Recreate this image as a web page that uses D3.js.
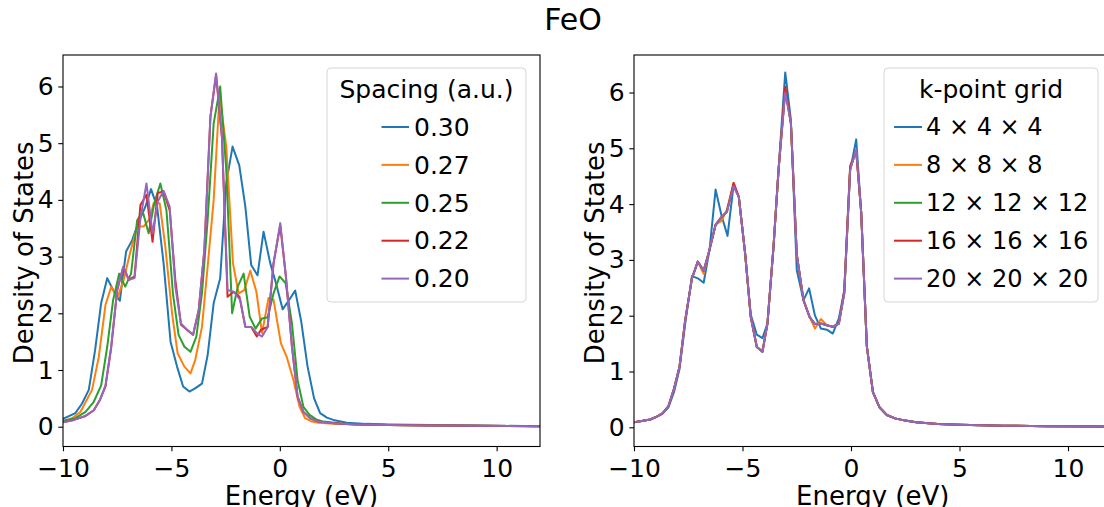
<!DOCTYPE html>
<html><head><meta charset="utf-8">
<script src="https://cdn.jsdelivr.net/npm/d3@7/dist/d3.min.js"></script>
<style>body{margin:0;background:#fff}svg{display:block}text{font-family:"DejaVu Sans",sans-serif;fill:#000}</style>
</head><body><svg id="c" width="1104" height="507"></svg>
<script>
// ---- data ----
const xTicks = [-10, -5, 0, 5, 10];
const yTicks = [0, 1, 2, 3, 4, 5, 6];
const colors = ["#1f77b4", "#ff7f0e", "#2ca02c", "#d62728", "#9467bd"];
const spacingLabels = ["0.30", "0.27", "0.25", "0.22", "0.20"];
const kgridLabels = ["4 \u00d7 4 \u00d7 4", "8 \u00d7 8 \u00d7 8", "12 \u00d7 12 \u00d7 12", "16 \u00d7 16 \u00d7 16", "20 \u00d7 20 \u00d7 20"];

// Left panel: DOS vs energy for grid spacings [energy eV, DOS]
const sp030 = [[-10.1,0.12],[-9.43,0.24],[-9.12,0.41],[-8.81,0.65],[-8.52,1.35],[-8.24,2.18],[-7.96,2.62],[-7.69,2.41],[-7.38,2.22],[-7.09,3.09],[-6.81,3.29],[-6.53,3.59],[-6.2,3.88],[-5.94,4.19],[-5.66,3.88],[-5.36,2.88],[-5.04,1.5],[-4.74,1.06],[-4.46,0.71],[-4.17,0.62],[-3.89,0.68],[-3.59,0.76],[-3.33,1.26],[-3.05,2.18],[-2.75,2.62],[-2.47,4.3],[-2.18,4.94],[-1.87,4.61],[-1.59,3.88],[-1.32,2.85],[-1.03,2.67],[-0.75,3.44],[-0.44,2.88],[-0.17,2.52],[0.13,2.07],[0.42,2.23],[0.71,2.4],[0.99,1.85],[1.28,1.06],[1.58,0.5],[1.86,0.24],[2.17,0.16],[2.47,0.12],[3.09,0.07],[4,0.05],[5,0.04],[7,0.03],[9,0.02],[12,0.01]];
const sp027 = [[-10.1,0.09],[-9.58,0.15],[-9.2,0.26],[-8.66,0.65],[-8.35,1.23],[-8.04,2.15],[-7.77,2.47],[-7.5,2.26],[-7.2,2.59],[-6.89,3.09],[-6.58,3.53],[-6.28,3.53],[-6.0,3.67],[-5.82,3.94],[-5.54,3.94],[-5.28,3.17],[-4.97,2.0],[-4.71,1.29],[-4.4,1.06],[-4.12,0.94],[-3.9,1.18],[-3.59,1.76],[-3.33,2.82],[-3.05,4.0],[-2.78,5.85],[-2.47,4.94],[-2.16,2.88],[-1.9,2.35],[-1.64,2.41],[-1.36,2.75],[-1.08,2.38],[-0.82,1.65],[-0.52,2.27],[-0.29,2.24],[0.05,1.47],[0.32,1.23],[0.63,0.82],[0.91,0.35],[1.17,0.15],[1.48,0.09],[1.78,0.07],[2.5,0.05],[3.5,0.04],[5,0.03],[7,0.02],[9,0.015],[12,0.01]];
const sp025 = [[-10.1,0.09],[-9.43,0.15],[-8.96,0.26],[-8.58,0.44],[-8.24,0.73],[-7.96,1.41],[-7.69,2.23],[-7.41,2.7],[-7.13,2.47],[-6.86,2.7],[-6.58,3.64],[-6.32,3.79],[-6.05,3.41],[-5.79,3.94],[-5.51,4.29],[-5.23,3.82],[-4.93,2.35],[-4.67,1.62],[-4.4,1.41],[-4.12,1.32],[-3.85,1.59],[-3.59,2.35],[-3.33,3.64],[-3.05,5.35],[-2.75,6.0],[-2.47,4.53],[-2.2,2.0],[-1.94,2.47],[-1.67,2.7],[-1.39,1.94],[-1.12,1.73],[-0.82,1.91],[-0.56,1.93],[-0.29,2.35],[-0.01,2.65],[0.27,2.53],[0.56,1.82],[0.82,0.82],[1.09,0.35],[1.37,0.21],[1.68,0.13],[2.0,0.09],[3,0.05],[5,0.03],[7,0.02],[9,0.015],[12,0.01]];
const sp022 = [[-10.1,0.07],[-9.5,0.12],[-8.96,0.19],[-8.58,0.29],[-8.3,0.47],[-8.04,0.71],[-7.78,1.38],[-7.5,2.41],[-7.22,2.82],[-6.96,2.59],[-6.7,2.65],[-6.43,3.91],[-6.15,4.09],[-5.87,3.26],[-5.63,4.12],[-5.36,4.15],[-5.08,3.82],[-4.82,2.59],[-4.56,1.8],[-4.28,1.71],[-4.0,1.62],[-3.74,2.06],[-3.48,3.12],[-3.2,5.47],[-2.94,6.2],[-2.67,5.11],[-2.41,2.29],[-2.13,2.38],[-1.86,2.29],[-1.59,1.76],[-1.32,1.76],[-1.06,1.59],[-0.87,1.71],[-0.56,1.76],[-0.29,2.88],[0.02,3.55],[0.28,2.65],[0.56,1.41],[0.82,0.53],[1.09,0.26],[1.4,0.15],[1.78,0.09],[2.5,0.06],[3.5,0.04],[5,0.03],[7,0.02],[9,0.015],[12,0.01]];
const sp020 = [[-10.1,0.07],[-9.5,0.12],[-8.96,0.19],[-8.58,0.29],[-8.3,0.47],[-8.04,0.73],[-7.78,1.41],[-7.5,2.41],[-7.22,2.82],[-6.96,2.59],[-6.7,2.62],[-6.43,3.67],[-6.15,4.29],[-5.87,3.41],[-5.63,3.97],[-5.36,4.16],[-5.08,3.88],[-4.82,2.47],[-4.56,1.82],[-4.28,1.71],[-4.0,1.62],[-3.74,2.06],[-3.48,3.12],[-3.2,5.47],[-2.94,6.23],[-2.67,5.11],[-2.41,2.41],[-2.13,2.38],[-1.82,2.23],[-1.59,1.76],[-1.32,1.76],[-1.06,1.65],[-0.82,1.59],[-0.56,1.76],[-0.29,2.88],[0.02,3.59],[0.28,2.65],[0.56,1.41],[0.82,0.53],[1.09,0.26],[1.4,0.15],[1.78,0.09],[2.5,0.06],[3.5,0.04],[5,0.03],[7,0.02],[9,0.015],[12,0.01]];

// Right panel: DOS vs energy for k-point grids
const kg4 = [[-10.17,0.08],[-9.71,0.11],[-9.25,0.14],[-8.95,0.19],[-8.69,0.24],[-8.41,0.36],[-8.15,0.64],[-7.9,1.05],[-7.64,1.86],[-7.33,2.71],[-7.06,2.67],[-6.79,2.59],[-6.52,3.18],[-6.24,4.26],[-5.97,3.8],[-5.69,3.43],[-5.41,4.34],[-5.17,4.13],[-4.88,3.12],[-4.62,2.02],[-4.34,1.66],[-4.08,1.6],[-3.85,1.86],[-3.57,3.24],[-3.34,4.61],[-3.03,6.36],[-2.77,5.51],[-2.5,2.82],[-2.19,2.28],[-1.93,2.49],[-1.66,2.0],[-1.39,1.77],[-1.11,1.75],[-0.84,1.68],[-0.56,1.95],[-0.31,2.45],[-0.04,4.6],[0.24,5.16],[0.47,3.85],[0.73,1.45],[1.01,0.63],[1.31,0.36],[1.65,0.22],[2.03,0.16],[2.5,0.12],[3,0.09],[4,0.06],[5,0.045],[7,0.03],[9,0.02],[12,0.012]];
const kg8 = [[-10.17,0.08],[-9.71,0.11],[-9.25,0.14],[-8.95,0.19],[-8.69,0.25],[-8.41,0.38],[-8.15,0.7],[-7.9,1.09],[-7.64,1.92],[-7.33,2.67],[-7.06,2.97],[-6.79,2.75],[-6.52,3.18],[-6.24,3.63],[-5.97,3.7],[-5.72,3.9],[-5.41,4.38],[-5.17,4.13],[-4.88,3.12],[-4.62,1.98],[-4.34,1.44],[-4.08,1.37],[-3.85,1.86],[-3.57,3.24],[-3.34,4.61],[-3.03,6.05],[-2.77,5.45],[-2.5,3.1],[-2.19,2.28],[-1.91,1.98],[-1.66,1.77],[-1.39,1.94],[-1.11,1.83],[-0.84,1.8],[-0.56,1.86],[-0.31,2.4],[-0.04,4.65],[0.24,4.95],[0.47,3.85],[0.73,1.45],[1.01,0.63],[1.31,0.36],[1.65,0.22],[2.03,0.16],[2.5,0.12],[3,0.09],[4,0.06],[5,0.045],[7,0.03],[9,0.02],[12,0.012]];
const kg12 = [[-10.17,0.08],[-9.71,0.11],[-9.25,0.14],[-8.95,0.19],[-8.69,0.25],[-8.41,0.38],[-8.15,0.7],[-7.9,1.09],[-7.64,1.92],[-7.33,2.67],[-7.06,2.97],[-6.79,2.8],[-6.52,3.18],[-6.24,3.63],[-5.97,3.76],[-5.72,3.87],[-5.41,4.33],[-5.17,4.13],[-4.88,3.12],[-4.62,1.98],[-4.34,1.44],[-4.08,1.36],[-3.85,1.86],[-3.57,3.24],[-3.34,4.61],[-3.03,6.05],[-2.77,5.45],[-2.5,3.1],[-2.19,2.28],[-1.91,1.98],[-1.66,1.85],[-1.39,1.86],[-1.11,1.83],[-0.84,1.8],[-0.56,1.86],[-0.31,2.4],[-0.04,4.63],[0.24,4.96],[0.47,3.85],[0.73,1.45],[1.01,0.63],[1.31,0.36],[1.65,0.22],[2.03,0.16],[2.5,0.12],[3,0.09],[4,0.06],[5,0.045],[7,0.03],[9,0.02],[12,0.012]];
const kg16 = [[-10.17,0.08],[-9.71,0.11],[-9.25,0.14],[-8.95,0.19],[-8.69,0.25],[-8.41,0.38],[-8.15,0.7],[-7.9,1.09],[-7.64,1.92],[-7.33,2.67],[-7.06,2.97],[-6.79,2.81],[-6.52,3.18],[-6.24,3.63],[-5.97,3.77],[-5.72,3.86],[-5.41,4.38],[-5.17,4.13],[-4.88,3.12],[-4.62,1.98],[-4.34,1.44],[-4.08,1.35],[-3.85,1.86],[-3.57,3.24],[-3.34,4.61],[-3.03,6.1],[-2.77,5.45],[-2.5,3.1],[-2.19,2.28],[-1.91,1.98],[-1.66,1.85],[-1.39,1.86],[-1.11,1.83],[-0.84,1.8],[-0.56,1.86],[-0.31,2.45],[-0.04,4.68],[0.24,4.95],[0.47,3.85],[0.73,1.45],[1.01,0.63],[1.31,0.36],[1.65,0.22],[2.03,0.16],[2.5,0.12],[3,0.09],[4,0.06],[5,0.045],[7,0.03],[9,0.02],[12,0.012]];
const kg20 = [[-10.17,0.08],[-9.71,0.11],[-9.25,0.14],[-8.95,0.19],[-8.69,0.25],[-8.41,0.38],[-8.15,0.7],[-7.9,1.09],[-7.64,1.92],[-7.33,2.67],[-7.06,2.97],[-6.79,2.81],[-6.52,3.18],[-6.24,3.63],[-5.97,3.77],[-5.72,3.86],[-5.41,4.32],[-5.17,4.13],[-4.88,3.12],[-4.62,1.98],[-4.34,1.44],[-4.08,1.35],[-3.85,1.86],[-3.57,3.24],[-3.34,4.61],[-3.03,6.0],[-2.77,5.45],[-2.5,3.1],[-2.19,2.28],[-1.91,1.98],[-1.66,1.85],[-1.39,1.86],[-1.11,1.83],[-0.84,1.8],[-0.56,1.86],[-0.31,2.4],[-0.04,4.61],[0.24,4.98],[0.47,3.85],[0.73,1.45],[1.01,0.63],[1.31,0.36],[1.65,0.22],[2.03,0.16],[2.5,0.12],[3,0.09],[4,0.06],[5,0.045],[7,0.03],[9,0.02],[12,0.012]];

const spacingSeries = [sp030, sp027, sp025, sp022, sp020];
const kgridSeries = [kg4, kg8, kg12, kg16, kg20];

// ---- drawing ----
const svg = d3.select("#c");
const FS = 25, FL = 26;

svg.append("text").attr("x", 573).attr("y", 30).attr("text-anchor", "middle")
  .style("font-size", "30px").text("FeO");

function panel(id, left, right, yDom, series, legendTitle, labels, leg) {
  const top = 55, bottom = 446.5;
  const x = d3.scaleLinear().domain([-10, 12]).range([left, right]);
  const y = d3.scaleLinear().domain(yDom).range([bottom, top]);
  const g = svg.append("g");
  g.append("clipPath").attr("id", id).append("rect")
    .attr("x", left).attr("y", top).attr("width", right - left).attr("height", bottom - top);
  const line = d3.line().x(d => x(d[0])).y(d => y(d[1]));
  const pg = g.append("g").attr("clip-path", `url(#${id})`);
  series.forEach((s, i) => {
    pg.append("path").attr("d", line(s)).attr("fill", "none")
      .attr("stroke", colors[i]).attr("stroke-width", 2)
      .attr("stroke-linejoin", "round").attr("stroke-linecap", "butt");
  });
  const xa = g.append("g").attr("transform", `translate(0,${bottom})`)
    .call(d3.axisBottom(x).tickValues(xTicks).tickSize(4.7).tickPadding(7.8).tickSizeOuter(0));
  const ya = g.append("g").attr("transform", `translate(${left},0)`)
    .call(d3.axisLeft(y).tickValues(yTicks).tickFormat(d3.format("d")).tickSize(4.7).tickPadding(4.7).tickSizeOuter(0));
  [xa, ya].forEach(a => {
    a.select(".domain").remove();
    a.selectAll("line").attr("stroke", "#000").attr("stroke-width", 1.1);
    a.selectAll("text").style("font-size", FS + "px").style("font-family", '"DejaVu Sans",sans-serif');
  });
  g.append("rect").attr("x", left).attr("y", top).attr("width", right - left).attr("height", bottom - top)
    .attr("fill", "none").attr("stroke", "#000").attr("stroke-width", 1.1);
  g.append("text").attr("x", (left + right) / 2)
    .attr("y", 505).attr("text-anchor", "middle").style("font-size", FL + "px").text("Energy (eV)");
  g.append("text").attr("transform", `translate(${left - 30},${(top + bottom) / 2 + 2}) rotate(-90)`)
    .attr("text-anchor", "middle").style("font-size", FL + "px").text("Density of States");
  // legend
  const lg = g.append("g");
  lg.append("rect").attr("x", leg.x0).attr("y", 68).attr("width", leg.x1 - leg.x0).attr("height", 234)
    .attr("rx", 4).attr("fill", "#fff").attr("fill-opacity", 0.8)
    .attr("stroke", "#d6d6d6").attr("stroke-width", 1);
  lg.append("text").attr("x", (leg.x0 + leg.x1) / 2).attr("y", 89).attr("dy", "0.35em")
    .attr("text-anchor", "middle").style("font-size", FS + "px").text(legendTitle);
  labels.forEach((lab, i) => {
    const cy = 127 + i * 37.9;
    lg.append("line").attr("x1", leg.h0).attr("x2", leg.h1).attr("y1", cy).attr("y2", cy)
      .attr("stroke", colors[i]).attr("stroke-width", 2);
    lg.append("text").attr("x", leg.tx).attr("y", cy).attr("dy", "0.35em")
      .style("font-size", leg.fs + "px").text(lab);
  });
}

panel("clipL", 63, 540, [-0.349, 6.555], spacingSeries, "Spacing (a.u.)", spacingLabels,
  {x0: 327, x1: 526, h0: 381.5, h1: 409, tx: 414, fs: 25});
panel("clipR", 634, 1111.4, [-0.344, 6.672], kgridSeries, "k-point grid", kgridLabels,
  {x0: 884, x1: 1098, h0: 894, h1: 922, tx: 926, fs: 24});
</script></body></html>
